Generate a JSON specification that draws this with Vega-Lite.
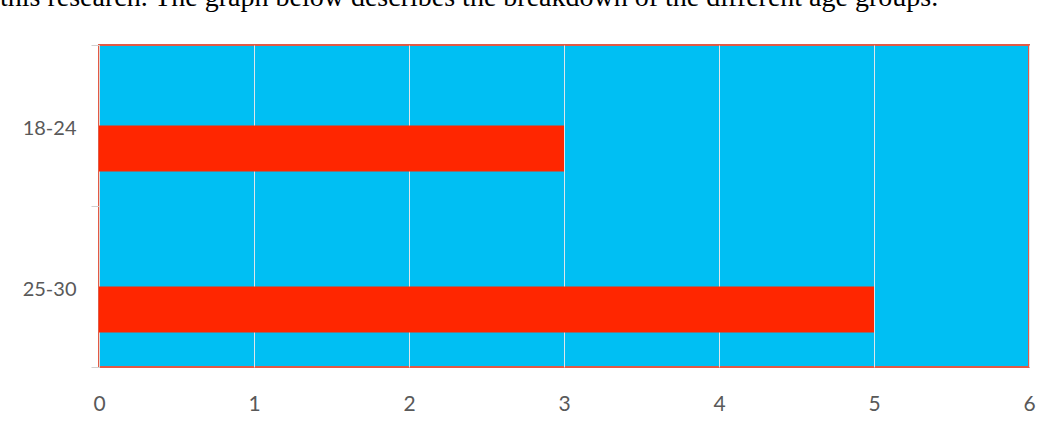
{
  "$schema": "https://vega.github.io/schema/vega-lite/v6.json",
  "autosize": "none",
  "width": 930,
  "height": 322,
  "padding": {"left": 99, "top": 45, "right": 33, "bottom": 61},
  "background": "white",
  "title": {
    "text": "this research. The graph below describes the breakdown of the different age groups.",
    "anchor": "start",
    "frame": "group",
    "dx": -99,
    "offset": 1,
    "baseline": "alphabetic",
    "font": "Liberation Serif",
    "fontSize": 28,
    "fontWeight": "normal",
    "color": "#000000"
  },
  "data": {
    "values": [
      {"age": "18-24", "series": "count", "people": 3},
      {"age": "25-30", "series": "count", "people": 5}
    ]
  },
  "mark": {"type": "bar", "color": "#FF2600"},
  "encoding": {
    "y": {
      "field": "age",
      "type": "nominal",
      "sort": null,
      "title": null,
      "scale": {"paddingInner": 0, "paddingOuter": 0},
      "axis": {
        "tickBand": "extent",
        "tickSize": 8,
        "tickColor": "#D0D0D0",
        "domainColor": "#D9D9D9",
        "labelPadding": 15,
        "labelOffset": 3,
        "labelFont": "Lato",
        "labelFontSize": 20,
        "labelColor": "#595959",
        "grid": false
      }
    },
    "yOffset": {
      "field": "series",
      "type": "nominal",
      "scale": {"domain": ["gap", "count"], "paddingInner": 0, "paddingOuter": 0.75}
    },
    "x": {
      "field": "people",
      "type": "quantitative",
      "title": null,
      "scale": {"domain": [0, 6], "nice": false},
      "axis": {
        "values": [0, 1, 2, 3, 4, 5, 6],
        "grid": true,
        "gridColor": "#DDE6EA",
        "gridWidth": 1,
        "ticks": false,
        "tickSize": 0,
        "domain": false,
        "labelOverlap": false,
        "labelPadding": 26,
        "labelFont": "Lato",
        "labelFontSize": 21,
        "labelColor": "#595959",
        "labelFlush": false
      }
    }
  },
  "config": {
    "view": {"fill": "#00BFF3", "stroke": "#E35A45", "strokeWidth": 2}
  }
}
